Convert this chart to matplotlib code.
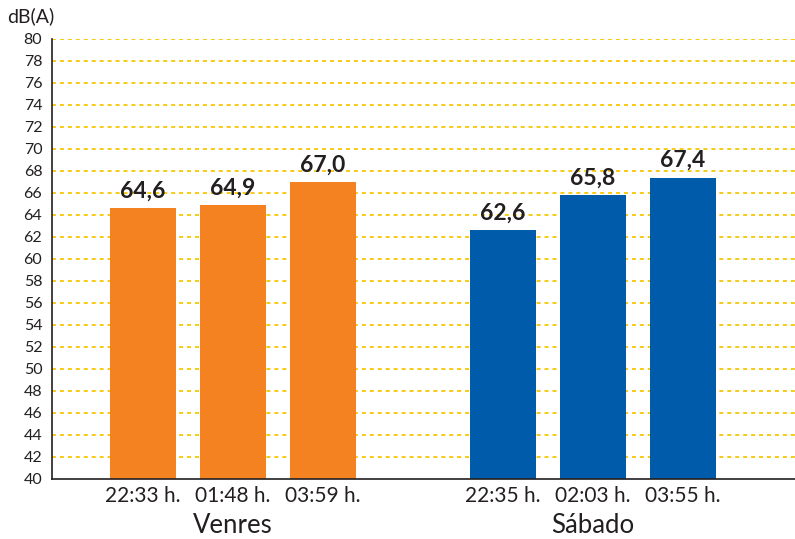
import matplotlib.pyplot as plt

# data
days = ['Venres', 'Sábado']
times = ['22:33 h.', '01:48 h.', '03:59 h.', '22:35 h.', '02:03 h.', '03:55 h.']
values = [64.6, 64.9, 67.0, 62.6, 65.8, 67.4]
labels = ['64,6', '64,9', '67,0', '62,6', '65,8', '67,4']
pos = [0, 1, 2, 4, 5, 6]
colors = ['#F58220'] * 3 + ['#005BAA'] * 3

plt.rcParams['font.family'] = ['Lato', 'DejaVu Sans']

fig = plt.figure(figsize=(7.95, 5.39), dpi=100)
ax = fig.add_axes([52/795, 60/539, 743/795, 440/539])

for v in range(42, 81, 2):
    ax.axhline(v, color='#F7C600', lw=1.3, ls=(0, (2.2, 2.2)), zorder=0)

ax.bar(pos, [v - 40 for v in values], bottom=40, width=0.733, color=colors, zorder=2)
for x, v, s in zip(pos, values, labels):
    ax.text(x, v + 0.6, s, ha='center', va='bottom', fontsize=16.5, fontweight='bold', color='#231F20')

ax.set_ylim(40, 80)
ax.set_xlim(-1.011, 7.244)
ax.set_yticks(range(40, 81, 2))
ax.tick_params(axis='y', length=0, pad=7, labelsize=11.5, colors='#231F20')
ax.set_xticks(pos)
ax.set_xticklabels(times, fontsize=15, color='#231F20')
ax.tick_params(axis='x', length=0, pad=5)

for s in ['top', 'right']:
    ax.spines[s].set_visible(False)
ax.spines['left'].set_color('#231F20')
ax.spines['bottom'].set_color('#231F20')
ax.spines['left'].set_linewidth(1.2)
ax.spines['bottom'].set_linewidth(1.2)

for x, d in zip([1, 5], days):
    ax.text(x, -0.105, d, transform=ax.get_xaxis_transform(), ha='center', va='center', fontsize=18.5, color='#231F20')

fig.text(7/795, 1 - 16/539, 'dB(A)', ha='left', va='center', fontsize=14, color='#231F20')

fig.savefig('out.png', dpi=100)
